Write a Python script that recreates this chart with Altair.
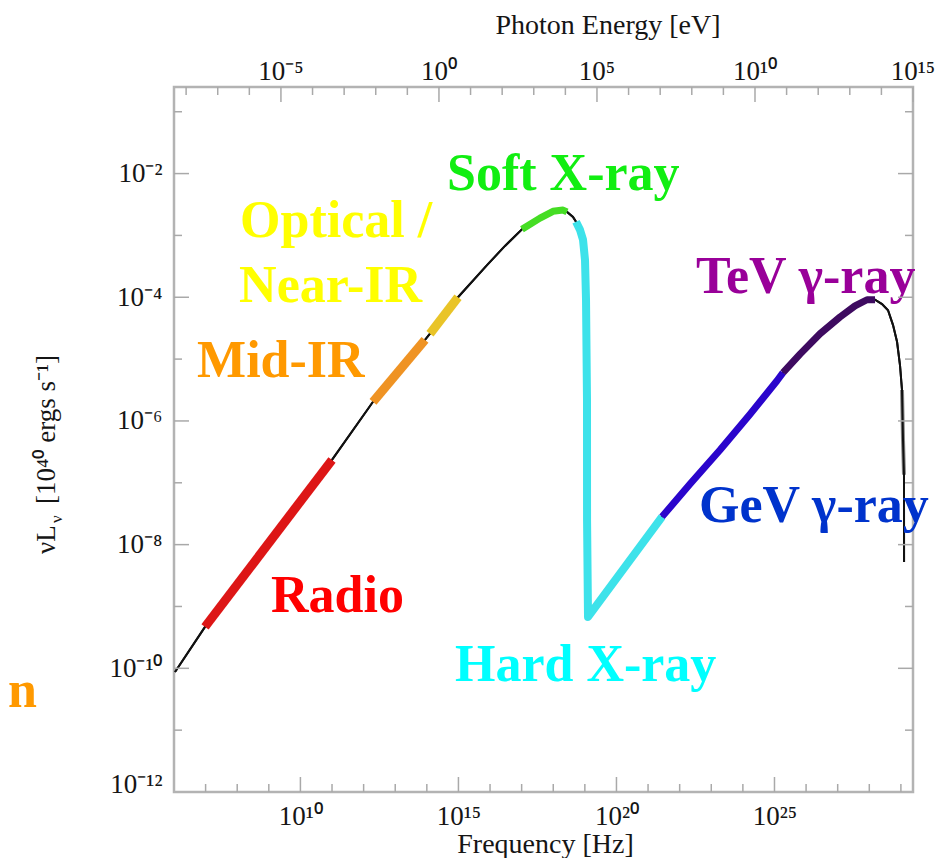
import altair as alt
import pandas as pd

# ---------------- data ----------------
# log10 frequency [Hz] and log10 nuL_nu [1e40 erg/s] along the SED curve
curve_lognu = [6.032, 6.981, 10.999, 12.297, 13.942, 14.100, 14.986, 15.904, 16.473,
               17.011, 17.581, 17.992, 18.309, 18.435, 18.625, 18.720, 18.847, 18.942,
               19.005, 19.037, 19.068, 19.070, 19.100, 21.441, 22.327, 23.276, 24.226,
               25.080, 25.270, 25.808, 26.441, 27.074, 27.548, 27.928, 28.181, 28.403,
               28.593, 28.751, 28.878, 28.972, 29.035, 29.067, 29.098, 29.100]
curve_lognuL = [-10.06, -9.33, -6.63, -5.69, -4.69, -4.59, -4.00, -3.48, -3.17,
                -2.90, -2.72, -2.61, -2.59, -2.62, -2.70, -2.78, -2.91, -3.07,
                -3.40, -4.04, -5.66, -7.60, -9.17, -7.55, -7.02, -6.47, -5.89,
                -5.35, -5.22, -4.92, -4.59, -4.32, -4.14, -4.04, -4.04, -4.11,
                -4.21, -4.45, -4.72, -5.10, -5.50, -6.31, -6.87, -8.28]

# highlighted bands: first / last point index along the curve
band_names = ["Radio", "Mid-IR", "Optical", "Soft X-ray", "Hard X-ray", "GeV", "TeV", "cutoff"]
band_start = [1, 3, 5, 9, 15, 23, 28, 40]
band_end = [2, 4, 6, 13, 23, 28, 34, 42]
band_colors = ["#dd1616", "#ef9324", "#e9c428", "#45dd24", "#3de2ea", "#2a05cc", "#3e0b60", "#8a8a8a"]
band_widths = [9, 9, 9, 7, 8, 7, 7, 4]

# band labels
label_text = ["Radio", "Mid-IR", "Optical /", "Near-IR", "Soft X-ray", "Hard X-ray",
              "GeV γ-ray", "TeV γ-ray"]
label_lognu = [9.07, 6.73, 8.09, 8.06, 14.64, 14.89, 22.61, 22.52]
label_lognuL = [-9.09, -5.29, -3.03, -4.08, -2.27, -10.21, -7.63, -3.93]
label_colors = ["#ff0000", "#ff9900", "#ffff00", "#ffff00", "#11ee11", "#00ffff",
                "#0033cc", "#990099"]

# axis ticks
freq_label_ticks = [10, 15, 20, 25]
energy_label_ticks = [-5, 0, 5, 10, 15]
lum_label_ticks = [-12, -10, -8, -6, -4, -2]
freq_decades = list(range(7, 30))
energy_decades = list(range(-8, 16))
lum_decades = list(range(-11, 0))

# ---------------- layout ----------------
W, H = 739, 705
XMIN, XMAX = 6.0, 29.383
YMIN, YMAX = -12.0, -0.6
LOG_H_EV = -14.3835  # log10(Planck constant in eV s)

SERIF = "Liberation Serif"
TICK_COLOR = "#a9a9a9"
TEXT_COLOR = "#151515"
LABEL_SIZE = 27
TITLE_SIZE = 28

sup = str.maketrans("0123456789-", "⁰¹²³⁴⁵⁶⁷⁸⁹⁻")


def pow_label(v):
    return "10" + str(v).translate(sup)


def pow_expr(values):
    expr = "''"
    for v in reversed(values):
        expr = f"datum.value == {v} ? '{pow_label(v)}' : " + expr
    return expr


xs = alt.Scale(domain=[XMIN, XMAX], nice=False, zero=False)
ys = alt.Scale(domain=[YMIN, YMAX], nice=False, zero=False)

axis_common = dict(domain=False, ticks=False, grid=False, labelFont=SERIF,
                   labelFontSize=LABEL_SIZE, labelColor=TEXT_COLOR, titleFont=SERIF,
                   titleFontSize=TITLE_SIZE, titleFontWeight="normal", titleColor=TEXT_COLOR)

curve_df = pd.DataFrame({"i": list(range(len(curve_lognu))),
                         "lognu": curve_lognu, "lognuL": curve_lognuL})

x_main = alt.X("lognu:Q", scale=xs,
               axis=alt.Axis(values=freq_label_ticks, labelExpr=pow_expr(freq_label_ticks),
                             title="Frequency [Hz]", orient="bottom", labelPadding=11,
                             titleX=371, titleY=60, titleAlign="center",
                             titleBaseline="alphabetic", **axis_common))
y_main = alt.Y("lognuL:Q", scale=ys,
               axis=alt.Axis(values=lum_label_ticks, labelExpr=pow_expr(lum_label_ticks),
                             title=None, labelPadding=12, orient="left",
                             labelBaseline={"condition": {"test": "datum.value <= -12",
                                                          "value": "alphabetic"},
                                            "value": "middle"},
                             **axis_common))
# other layers share the scales and leave the axis unspecified (so it merges)
x_plain = alt.X("lognu:Q", scale=xs)
y_plain = alt.Y("lognuL:Q", scale=ys)

layers = []

# thin black full curve (carries the main axes) - first layer
black = (alt.Chart(curve_df)
         .mark_line(color="#111111", strokeWidth=2, interpolate="linear")
         .encode(x=x_main, y=y_main, order="i:Q"))

# grey cutoff segment
i = band_names.index("cutoff")
layers.append(
    alt.Chart(curve_df.iloc[band_start[i]:band_end[i] + 1])
    .mark_line(color=band_colors[i], strokeWidth=band_widths[i], interpolate="linear")
    .encode(x=x_plain, y=y_plain, order="i:Q")
)
layers.append(
    alt.Chart(curve_df)
    .mark_line(color="#111111", strokeWidth=2, interpolate="linear")
    .encode(x=x_plain, y=y_plain, order="i:Q")
)

# coloured bands
for name, s, e, c, w in zip(band_names, band_start, band_end, band_colors, band_widths):
    if name == "cutoff":
        continue
    layers.append(
        alt.Chart(curve_df.iloc[s:e + 1])
        .mark_line(color=c, strokeWidth=w, interpolate="linear", strokeJoin="round")
        .encode(x=x_plain, y=y_plain, order="i:Q")
    )

# band labels
lab_df = pd.DataFrame({"label": label_text, "lognu": label_lognu, "lognuL": label_lognuL})
layers.append(
    alt.Chart(lab_df)
    .mark_text(font="Liberation Serif", fontWeight="bold", fontSize=52, align="left",
               baseline="alphabetic")
    .encode(x=x_plain, y=y_plain,
            color=alt.Color("label:N", scale=alt.Scale(domain=label_text, range=label_colors),
                            legend=None),
            text="label:N")
)

# cut-off orange label at far left
n_df = pd.DataFrame({"label": ["n"], "lognu": [1.665], "lognuL": [-10.63]})
layers.append(
    alt.Chart(n_df)
    .mark_text(font="Liberation Serif", fontWeight="bold", fontSize=52, align="right",
               baseline="alphabetic", color="#ff9900")
    .encode(x=x_plain, y=y_plain, text="label:N")
)

# bottom ticks (inward)
fd = pd.DataFrame({"lognu": freq_decades})
for cond, ln in [("datum.lognu % 5 != 0", 8), ("datum.lognu % 5 == 0", 15)]:
    layers.append(
        alt.Chart(fd).transform_filter(cond)
        .mark_rule(color=TICK_COLOR, strokeWidth=1.5)
        .encode(x=x_plain, y=alt.value(H), y2=alt.value(H - ln))
    )

# top axis: photon energy decades placed on the frequency scale (nu = E / h)
ed = pd.DataFrame({"logE": energy_decades})
for cond, ln in [("datum.logE % 5 != 0", 8), ("datum.logE % 5 == 0", 15)]:
    layers.append(
        alt.Chart(ed).transform_filter(cond)
        .transform_calculate(lognu=f"datum.logE - ({LOG_H_EV})")
        .mark_rule(color=TICK_COLOR, strokeWidth=1.5)
        .encode(x=x_plain, y=alt.value(0), y2=alt.value(ln))
    )
etl = pd.DataFrame({"logE": energy_label_ticks,
                    "label": [pow_label(v) for v in energy_label_ticks]})
layers.append(
    alt.Chart(etl)
    .transform_calculate(lognu=f"datum.logE - ({LOG_H_EV})")
    .mark_text(font=SERIF, fontSize=LABEL_SIZE, align="center", baseline="alphabetic",
               color=TEXT_COLOR)
    .encode(x=x_plain, y=alt.value(-7), text="label:N")
)
layers.append(
    alt.Chart(pd.DataFrame({"t": ["Photon Energy [eV]"]}))
    .mark_text(font=SERIF, fontSize=TITLE_SIZE, align="center", baseline="alphabetic",
               color=TEXT_COLOR)
    .encode(text="t:N", x=alt.value(434), y=alt.value(-53))
)

# left / right ticks (inward)
ld = pd.DataFrame({"lognuL": lum_decades})
for x0, sgn in [(0, 1), (W, -1)]:
    for cond, ln in [("datum.lognuL % 2 != 0", 8), ("datum.lognuL % 2 == 0", 15)]:
        layers.append(
            alt.Chart(ld).transform_filter(cond)
            .mark_rule(color=TICK_COLOR, strokeWidth=1.5)
            .encode(y=y_plain, x=alt.value(x0), x2=alt.value(x0 + sgn * ln))
        )

# y-axis title, drawn as rotated text pieces (with a subscript nu)
ytitle = [("νL", 27, -119, 467), ("ν", 17, -112, 436), ("[10⁴⁰ ergs s⁻¹]", 27, -119, 417)]
for txt, fs, px, py in ytitle:
    layers.append(
        alt.Chart(pd.DataFrame({"t": [txt]}))
        .mark_text(font=SERIF, fontSize=fs, angle=270, align="left", baseline="alphabetic",
                   color=TEXT_COLOR)
        .encode(text="t:N", x=alt.value(px), y=alt.value(py))
    )

chart = (
    alt.layer(black, *layers)
    .properties(width=W, height=H, autosize=alt.AutoSizeParams(type="none"),
                padding={"left": 166, "top": 79, "right": 30, "bottom": 66},
                background="white")
    .configure_view(stroke="#b3b3b3", strokeWidth=2.5)
)

chart.save("out.html", embed_options={"renderer": "svg", "actions": False})
